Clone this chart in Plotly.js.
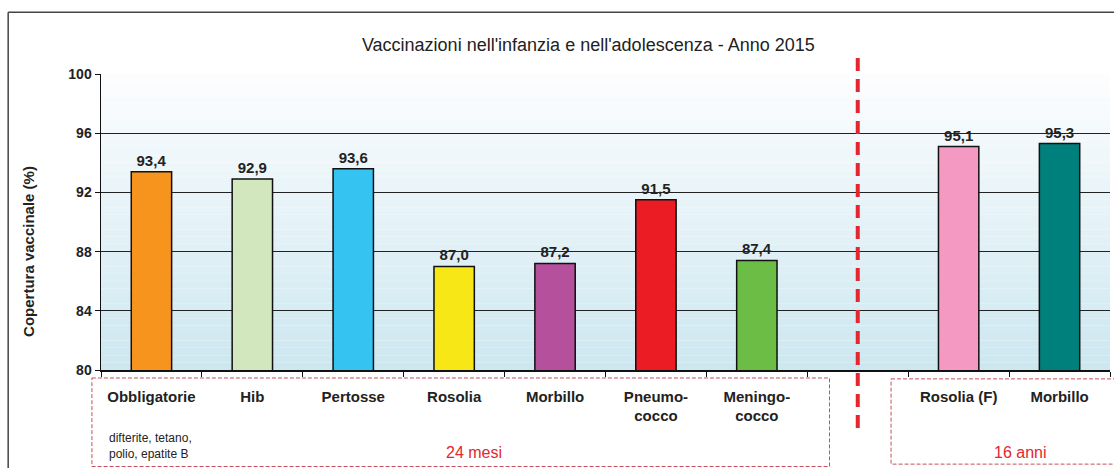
<!DOCTYPE html>
<html>
<head>
<meta charset="utf-8">
<script src="https://cdn.plot.ly/plotly-3.0.1.min.js"></script>
<style>
  html, body { margin: 0; padding: 0; background: #fff; }
  #plot { width: 1114px; height: 468px; }
</style>
</head>
<body>
<div id="plot"></div>
<script>
// categories (ids are unique, labels are what is shown)
var ids = ['obbl', 'hib', 'pert', 'ros', 'morb', 'pneu', 'meni', 'gap', 'rosF', 'morb16'];
var labels = ['Obbligatorie', 'Hib', 'Pertosse', 'Rosolia', 'Morbillo', 'Pneumo-<br>cocco', 'Meningo-<br>cocco', '', 'Rosolia (F)', 'Morbillo'];
var coverage = [93.4, 92.9, 93.6, 87.0, 87.2, 91.5, 87.4, null, 95.1, 95.3];
var colors = ['#f7941d', '#d2e7bd', '#35c4f2', '#f7e716', '#b5509c', '#ec1c24', '#6cbd45', '#ffffff', '#f49ac2', '#00807c'];
var yTicks = [80, 84, 88, 92, 96, 100];

var font = '"Liberation Sans", Arial, sans-serif';

var trace = {
  x: ids,
  y: coverage,
  type: 'bar',
  width: 0.4,
  marker: {color: colors, line: {color: '#111', width: 1.5}},
  text: coverage.map(function (v) { return v === null ? '' : v.toFixed(1).replace('.', ','); }),
  textposition: 'outside',
  cliponaxis: false,
  textfont: {family: font, size: 15, color: '#222', weight: 'bold'},
  hoverinfo: 'x+y'
};

// light blue gradient behind the bars
var shapes = [];
var bands = 40;
for (var i = 0; i < bands; i++) {
  var t = i / (bands - 1);
  var r = Math.round(252 - t * (252 - 205));
  var g = Math.round(253 - t * (253 - 231));
  var b = Math.round(254 - t * (254 - 240));
  shapes.push({
    type: 'rect', xref: 'paper', yref: 'paper', layer: 'below',
    x0: 0, x1: 1, y0: 1 - (i + 1) / bands, y1: 1 - i / bands,
    fillcolor: 'rgb(' + r + ',' + g + ',' + b + ')', line: {width: 0}
  });
}

// outer frame (top and left edges)
shapes.push({type: 'line', xref: 'paper', yref: 'paper', x0: -0.092, x1: 1.01, y0: 1.209, y1: 1.209, line: {color: '#444', width: 1.5}});
shapes.push({type: 'line', xref: 'paper', yref: 'paper', x0: -0.092, x1: -0.092, y0: 1.209, y1: -0.35, line: {color: '#444', width: 1.5}});

// red divider between 24 months and 16 years
shapes.push({type: 'line', xref: 'x', yref: 'paper', x0: 'gap', x1: 'gap', y0: 1.054, y1: -0.196, line: {color: '#e3262f', width: 4, dash: '13px,8px'}});

// dashed boxes round the category labels
shapes.push({type: 'rect', xref: 'paper', yref: 'paper', x0: -0.009, x1: 0.722, y0: -0.027, y1: -0.326, line: {color: '#c4505e', width: 1, dash: '4px,2px'}});
shapes.push({type: 'rect', xref: 'paper', yref: 'paper', x0: 0.783, x1: 1.02, y0: -0.03, y1: -0.318, line: {color: '#c4505e', width: 1, dash: '4px,2px'}});

var layout = {
  width: 1114,
  height: 468,
  margin: {l: 101, r: 4, t: 74, b: 98},
  paper_bgcolor: '#ffffff',
  plot_bgcolor: 'rgba(0,0,0,0)',
  showlegend: false,
  bargap: 0.6,
  title: {
    text: "Vaccinazioni nell'infanzia e nell'adolescenza - Anno 2015",
    font: {family: font, size: 18, color: '#222'},
    x: 0.483, xref: 'paper', y: 0.904, yref: 'container', xanchor: 'center', yanchor: 'middle'
  },
  xaxis: {
    type: 'category',
    tickmode: 'array',
    tickvals: ids,
    ticktext: labels.map(function (l) { return l === '' ? '' : '<b>' + l + '</b>'; }),
    tickson: 'boundaries',
    ticks: 'outside',
    ticklen: 5,
    tickcolor: '#111',
    showline: true,
    linecolor: '#111',
    linewidth: 1.5,
    showgrid: false,
    tickfont: {family: font, size: 15, color: '#222'},
    ticklabelstandoff: 12,
    fixedrange: true
  },
  yaxis: {
    range: [80, 100],
    tickvals: yTicks,
    ticks: 'outside',
    ticklen: 5,
    tickcolor: '#111',
    showline: true,
    linecolor: '#111',
    linewidth: 1.5,
    showgrid: true,
    gridcolor: '#222',
    gridwidth: 1,
    zeroline: false,
    tickfont: {family: font, size: 14, color: '#222', weight: 'bold'},
    fixedrange: true
  },
  annotations: [
    {xref: 'paper', yref: 'paper', x: -0.072, y: 0.40, xanchor: 'center', yanchor: 'middle', textangle: -90, showarrow: false,
     text: '<b>Copertura vaccinale (%)</b>', font: {family: font, size: 15, color: '#222'}},
    {xref: 'paper', yref: 'paper', x: 0.006, y: -0.2, xanchor: 'left', yanchor: 'top', align: 'left', showarrow: false,
     text: 'difterite, tetano,<br>polio, epatite B', font: {family: font, size: 12, color: '#222'}},
    {xref: 'paper', yref: 'paper', x: 0.37, y: -0.278, xanchor: 'center', yanchor: 'middle', showarrow: false,
     text: '24 mesi', font: {family: font, size: 16, color: '#e3262f'}},
    {xref: 'paper', yref: 'paper', x: 0.911, y: -0.278, xanchor: 'center', yanchor: 'middle', showarrow: false,
     text: '16 anni', font: {family: font, size: 16, color: '#e3262f'}}
  ],
  shapes: shapes
};

Plotly.newPlot('plot', [trace], layout, {displayModeBar: false, staticPlot: true});
</script>
</body>
</html>
